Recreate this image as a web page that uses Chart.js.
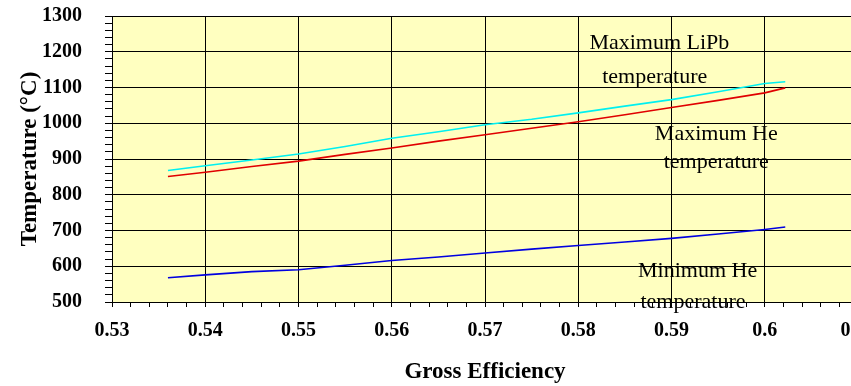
<!DOCTYPE html>
<html>
<head>
<meta charset="utf-8">
<script src="https://cdn.jsdelivr.net/npm/chart.js@4"></script>
<style>
  html, body { margin: 0; padding: 0; overflow: hidden; background: #fff; }
  #wrap { position: absolute; left: 0; top: 0; width: 880px; height: 386px; }
</style>
</head>
<body>
<div id="wrap"><canvas id="chart"></canvas></div>
<script>
// Gross efficiency (x) and temperatures (°C)
const efficiency = [0.536, 0.540, 0.545, 0.550, 0.555, 0.560, 0.565, 0.570, 0.575, 0.580, 0.585, 0.590, 0.595, 0.600, 0.6022];
const maxLiPb    = [868, 881, 897, 914, 935, 958, 976, 996, 1011, 1029, 1048, 1066, 1088, 1111, 1116];
const maxHe      = [851, 863, 879, 894, 913, 931, 950, 968, 986, 1004, 1024, 1044, 1064, 1085, 1099];
const minHe      = [568, 576, 585, 590, 603, 616, 626, 637, 648, 658, 668, 678, 690, 703, 710];

// Axis ranges
const xRange = { min: 0.53, max: 0.61, major: 0.01, minor: 0.002 };
const yRange = { min: 500, max: 1300, major: 100, minor: 20 };

// Text boxes: line, centre (efficiency), baseline (°C)
const noteLines = ['Maximum LiPb', 'temperature', 'Maximum He', 'temperature', 'Minimum He', 'temperature'];
const noteX     = [0.5887, 0.5882, 0.5948, 0.5948, 0.5928, 0.5923];
const noteY     = [1209, 1113, 954, 875, 571, 483];

const serif = "'Liberation Serif', 'Times New Roman', serif";

function pts(ys) { return efficiency.map((x, i) => ({ x: x, y: ys[i] })); }
function isMajor(v, step) { const q = v / step; return Math.abs(q - Math.round(q)) < 1e-6; }

const plotBg = {
  id: 'plotBg',
  beforeDraw(chart) {
    const { ctx, chartArea: a } = chart;
    ctx.save();
    ctx.fillStyle = '#FFFFC0';
    ctx.fillRect(a.left, a.top, a.right - a.left, a.bottom - a.top);
    ctx.restore();
  }
};

const noteText = {
  id: 'noteText',
  afterDraw(chart) {
    const { ctx, scales } = chart;
    ctx.save();
    ctx.fillStyle = '#000';
    ctx.font = '22px ' + serif;
    ctx.textAlign = 'center';
    ctx.textBaseline = 'alphabetic';
    noteLines.forEach((t, i) => {
      ctx.fillText(t, scales.x.getPixelForValue(noteX[i]), scales.y.getPixelForValue(noteY[i]));
    });
    ctx.restore();
  }
};

new Chart(document.getElementById('chart'), {
  type: 'line',
  data: {
    datasets: [
      { label: 'Maximum LiPb temperature', data: pts(maxLiPb), borderColor: '#00F0F0', borderWidth: 1.6 },
      { label: 'Maximum He temperature',   data: pts(maxHe),   borderColor: '#E00000', borderWidth: 1.6 },
      { label: 'Minimum He temperature',   data: pts(minHe),   borderColor: '#0000E0', borderWidth: 1.6 }
    ]
  },
  options: {
    responsive: true,
    maintainAspectRatio: false,
    animation: false,
    layout: { padding: { left: 0, right: 22, top: 16, bottom: 0 } },
    elements: { point: { radius: 0 }, line: { tension: 0 } },
    plugins: { legend: { display: false }, tooltip: { enabled: false } },
    scales: {
      x: {
        type: 'linear',
        min: xRange.min, max: xRange.max,
        afterFit(s) { s.height = 84; s.paddingLeft = 0; s.paddingRight = 0; },
        border: { color: '#000', width: 1 },
        grid: {
          color: c => isMajor(c.tick.value, xRange.major) ? '#000' : 'rgba(0,0,0,0)',
          tickColor: '#000', tickLength: 5, lineWidth: 1
        },
        ticks: {
          stepSize: xRange.minor, autoSkip: false, maxTicksLimit: 100, maxRotation: 0,
          padding: 12, color: '#000',
          font: { family: serif, size: 20, weight: 'bold' },
          callback: v => isMajor(v, xRange.major) ? String(Math.round(v * 100) / 100) : ''
        },
        title: {
          display: true, text: 'Gross Efficiency', color: '#000',
          font: { family: serif, size: 23, weight: 'bold' },
          padding: { top: 0, bottom: 0 }
        }
      },
      y: {
        min: yRange.min, max: yRange.max,
        afterFit(s) { s.width = 112; s.paddingTop = 0; s.paddingBottom = 0; },
        border: { color: '#000', width: 1 },
        grid: {
          color: c => isMajor(c.tick.value, yRange.major) ? '#000' : 'rgba(0,0,0,0)',
          tickColor: '#000', tickLength: 7, lineWidth: 1
        },
        ticks: {
          stepSize: yRange.minor, autoSkip: false, maxTicksLimit: 100,
          padding: 23, color: '#000',
          font: { family: serif, size: 20, weight: 'bold' },
          callback: v => isMajor(v, yRange.major) ? String(Math.round(v)) : ''
        },
        title: {
          display: true, text: 'Temperature (°C)', color: '#000',
          font: { family: serif, size: 23, weight: 'bold' },
          padding: { top: 16, bottom: 0 }
        }
      }
    }
  },
  plugins: [plotBg, noteText]
});
</script>
</body>
</html>
